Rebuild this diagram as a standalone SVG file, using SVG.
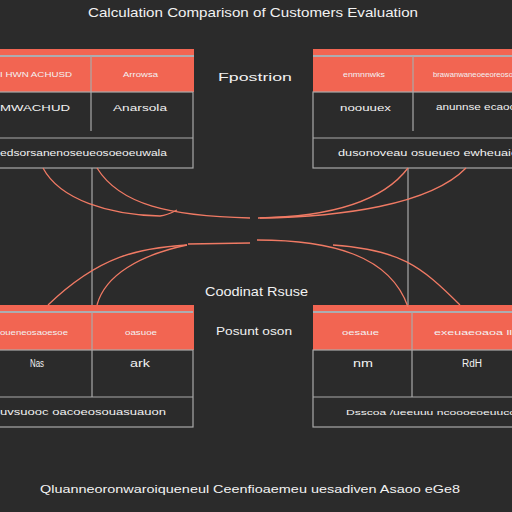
<svg xmlns="http://www.w3.org/2000/svg" width="512" height="512" viewBox="0 0 512 512">
<style>
.t{font-family:"Liberation Sans",Arial,sans-serif;fill:#f2f2f2}
.h{fill:#f26552}
.bl{stroke:#93c6d2;stroke-width:1.6}
.fr{fill:none;stroke:#a9a9a9;stroke-width:1.2}
.c{fill:none;stroke:#f07a64;stroke-width:1.3}
.v{stroke:#a9a9a9;stroke-width:1.2}
</style>
<rect width="512" height="512" fill="#2b2b2b"/>
<text class="t" x="88" y="17" font-size="13" textLength="330" lengthAdjust="spacingAndGlyphs">Calculation Comparison of Customers Evaluation</text>

<g id="table-top-left">
<rect class="h" x="-10" y="49" width="204" height="43"/>
<line class="bl" x1="-10" y1="56" x2="194" y2="56"/>
<rect class="fr" x="-10" y="92" width="203" height="76"/>
<line class="v" x1="-10" y1="138" x2="193" y2="138"/>
<line class="v" x1="91" y1="56" x2="91" y2="131"/>
<text class="t" x="0" y="77" font-size="8" textLength="72" lengthAdjust="spacingAndGlyphs">I HWN ACHUSD</text>
<text class="t" x="123" y="77" font-size="8" textLength="35" lengthAdjust="spacingAndGlyphs">Arrowsa</text>
<text class="t" x="0" y="111" font-size="9" textLength="70" lengthAdjust="spacingAndGlyphs">MWACHUD</text>
<text class="t" x="113" y="111" font-size="9" textLength="54" lengthAdjust="spacingAndGlyphs">Anarsola</text>
<text class="t" x="0" y="156" font-size="9" textLength="167" lengthAdjust="spacingAndGlyphs">edsorsanenoseueosoeoeuwala</text>
</g>

<g id="table-top-right">
<rect class="h" x="313" y="49" width="210" height="43"/>
<line class="bl" x1="313" y1="56" x2="523" y2="56"/>
<rect class="fr" x="313" y="92" width="210" height="76"/>
<line class="v" x1="313" y1="138" x2="523" y2="138"/>
<line class="v" x1="413" y1="56" x2="413" y2="131"/>
<text class="t" x="343" y="77" font-size="8" textLength="42" lengthAdjust="spacingAndGlyphs">enmnnwks</text>
<text class="t" x="433" y="77" font-size="7" fill="#cfe6ea" textLength="80" lengthAdjust="spacingAndGlyphs">brawanwaneoeeoreoso</text>
<text class="t" x="340" y="111" font-size="9" textLength="51" lengthAdjust="spacingAndGlyphs">noouuex</text>
<text class="t" x="436" y="110" font-size="9" textLength="80" lengthAdjust="spacingAndGlyphs">anunnse ecaoo</text>
<text class="t" x="338" y="156" font-size="9" textLength="180" lengthAdjust="spacingAndGlyphs">dusonoveau osueueo ewheuaie</text>
</g>

<g id="table-bottom-left">
<rect class="h" x="-10" y="305" width="204" height="45"/>
<line class="bl" x1="-10" y1="312" x2="193" y2="312"/>
<rect class="fr" x="-10" y="350" width="203" height="77"/>
<line class="v" x1="-10" y1="397" x2="193" y2="397"/>
<line class="v" x1="92" y1="312" x2="92" y2="397"/>
<text class="t" x="0" y="335" font-size="8" textLength="68" lengthAdjust="spacingAndGlyphs">oueneosaoesoe</text>
<text class="t" x="125" y="335" font-size="8" textLength="32" lengthAdjust="spacingAndGlyphs">oasuoe</text>
<text class="t" x="30" y="367" font-size="10" textLength="14" lengthAdjust="spacingAndGlyphs">Nas</text>
<text class="t" x="130" y="367" font-size="10" textLength="20" lengthAdjust="spacingAndGlyphs">ark</text>
<text class="t" x="0" y="415" font-size="9" textLength="166" lengthAdjust="spacingAndGlyphs">uvsuooc oacoeosouasuauon</text>
</g>

<g id="table-bottom-right">
<rect class="h" x="313" y="305" width="210" height="45"/>
<line class="bl" x1="313" y1="312" x2="523" y2="312"/>
<rect class="fr" x="313" y="350" width="210" height="77"/>
<line class="v" x1="313" y1="397" x2="523" y2="397"/>
<line class="v" x1="412" y1="312" x2="412" y2="397"/>
<text class="t" x="342" y="335" font-size="8" fill="#dff0f2" textLength="37" lengthAdjust="spacingAndGlyphs">oesaue</text>
<text class="t" x="434" y="335" font-size="8" fill="#dff0f2" textLength="78" lengthAdjust="spacingAndGlyphs">exeuaeoaoa ll</text>
<text class="t" x="353" y="367" font-size="10" textLength="20" lengthAdjust="spacingAndGlyphs">nm</text>
<text class="t" x="462" y="367" font-size="10" textLength="20" lengthAdjust="spacingAndGlyphs">RdH</text>
<text class="t" x="346" y="415" font-size="8" textLength="170" lengthAdjust="spacingAndGlyphs">Dsscoa /ueeuuu ncoooeoeuuco</text>
</g>

<g id="label-top">
<text class="t" x="218" y="81" font-size="11" textLength="74" lengthAdjust="spacingAndGlyphs">Fpostrion</text>
</g>
<g id="label-mid">
<text class="t" x="205" y="296" font-size="13" textLength="103" lengthAdjust="spacingAndGlyphs">Coodinat Rsuse</text>
</g>
<g id="label-mid2">
<text class="t" x="216" y="335" font-size="11" textLength="76" lengthAdjust="spacingAndGlyphs">Posunt oson</text>
</g>
<g id="footer">
<text class="t" x="40" y="493" font-size="11" textLength="420" lengthAdjust="spacingAndGlyphs">Qluanneoronwaroiqueneul Ceenfioaemeu uesadiven Asaoo eGe8</text>
</g>

<g id="connectors">
<line class="v" x1="92" y1="168" x2="92" y2="305"/>
<line class="v" x1="408" y1="168" x2="408" y2="305"/>
<path class="c" d="M43,168 C60,200 110,215 160,216 C168,215 173,212 177,210"/>
<path class="c" d="M97,168 C120,205 170,216 250,218"/>
<path class="c" d="M408,168 C380,205 320,217 258,218"/>
<path class="c" d="M466,168 C430,205 340,217 260,218"/>
<line class="c" x1="188" y1="244" x2="250" y2="243"/>
<path class="c" d="M187,245 C140,248 100,255 48,305"/>
<path class="c" d="M187,245 C140,255 105,275 97,305"/>
<path class="c" d="M257,240 C330,240 390,255 408,307"/>
<path class="c" d="M333,245 C400,250 420,265 460,305"/>
</g>
</svg>
